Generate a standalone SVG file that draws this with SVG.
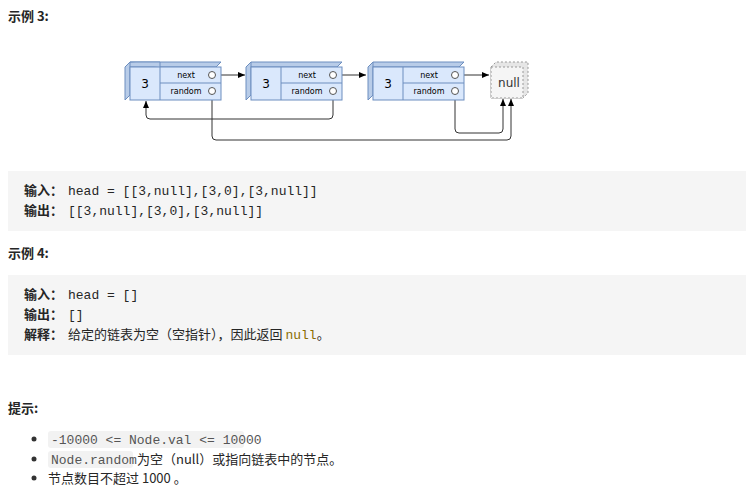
<svg xmlns="http://www.w3.org/2000/svg" width="746" height="499" viewBox="0 0 746 499">
<style>
.t{font-family:"Microsoft YaHei","Noto Sans CJK SC",sans-serif;font-size:13px;fill:#262626}
.b{font-weight:bold}
.m{font-family:"Liberation Mono","DejaVu Sans Mono",monospace;font-size:13px;fill:#262626}
.face{fill:#dae8fc;stroke:#6c8ebf;stroke-width:1}
.side{fill:#b8cce8;stroke:#6c8ebf;stroke-width:1}
.lbl{font-family:"Comic Sans MS","DejaVu Sans",sans-serif;font-size:8px;fill:#000;text-anchor:middle}
.val{font-family:"DejaVu Sans",sans-serif;font-size:12px;fill:#000;text-anchor:middle}
.dot{fill:#fff;stroke:#555;stroke-width:1}
.ln{fill:none;stroke:#333;stroke-width:1}
</style>
<defs>
<marker id="ah" markerWidth="8" markerHeight="8" refX="7" refY="4" orient="auto" markerUnits="userSpaceOnUse"><path d="M0,1 L7,4 L0,7 z" fill="#000"/></marker>
<g id="nd">
<path class="side" d="M0,0 L5,-5 L96,-5 L91,0 z"/>
<path class="side" d="M0,0 L5,-5 L5,33 L0,38 z"/>
<rect class="face" x="5" y="0" width="91" height="33" transform="translate(-5,5)"/>
<line class="face" x1="30" y1="5" x2="30" y2="38" transform="translate(5,-5)"/>
</g>
</defs>
<text class="t b" x="8" y="21">示例 3:</text>
<g id="connectors">
<line class="ln" x1="217" y1="75" x2="245" y2="75" marker-end="url(#ah)"/>
<line class="ln" x1="338" y1="75" x2="366" y2="75" marker-end="url(#ah)"/>
<line class="ln" x1="459" y1="75" x2="489" y2="75" marker-end="url(#ah)"/>
<path class="ln" d="M333,95 V115 Q333,119 329,119 H150 Q146,119 146,115 V101" marker-end="url(#ah)"/>
<path class="ln" d="M212,95 V136 Q212,140 216,140 H507 Q511,140 511,136 V99" marker-end="url(#ah)"/>
<path class="ln" d="M455,95 V129 Q455,133 459,133 H499 Q503,133 503,129 V99" marker-end="url(#ah)"/>
</g>
<g id="n1" transform="translate(125,67)">
<path class="side" d="M0,0 L5,-5 L96,-5 L91,0 z"/><path class="side" d="M0,0 L5,-5 L5,28 L0,33 z"/>
<path class="side" d="M5,-5 L35,-5 L35,0"/>
<rect class="face" x="5" y="0" width="91" height="33"/>
<line class="face" x1="35" y1="0" x2="35" y2="33"/><line class="face" x1="35" y1="16" x2="96" y2="16"/>
<text class="val" x="20" y="21">3</text><text class="lbl" x="61" y="11">next</text><text class="lbl" x="61" y="27">random</text>
<circle class="dot" cx="87" cy="8" r="3.5"/><circle class="dot" cx="87" cy="24" r="3.5"/>
</g>
<g id="n2" transform="translate(246,67)">
<path class="side" d="M0,0 L5,-5 L96,-5 L91,0 z"/><path class="side" d="M0,0 L5,-5 L5,28 L0,33 z"/>
<rect class="face" x="5" y="0" width="91" height="33"/>
<line class="face" x1="35" y1="0" x2="35" y2="33"/><line class="face" x1="35" y1="16" x2="96" y2="16"/>
<text class="val" x="20" y="21">3</text><text class="lbl" x="61" y="11">next</text><text class="lbl" x="61" y="27">random</text>
<circle class="dot" cx="87" cy="8" r="3.5"/><circle class="dot" cx="87" cy="24" r="3.5"/>
</g>
<g id="n3" transform="translate(368,67)">
<path class="side" d="M0,0 L5,-5 L96,-5 L91,0 z"/><path class="side" d="M0,0 L5,-5 L5,28 L0,33 z"/>
<rect class="face" x="5" y="0" width="91" height="33"/>
<line class="face" x1="35" y1="0" x2="35" y2="33"/><line class="face" x1="35" y1="16" x2="96" y2="16"/>
<text class="val" x="20" y="21">3</text><text class="lbl" x="61" y="11">next</text><text class="lbl" x="61" y="27">random</text>
<circle class="dot" cx="87" cy="8" r="3.5"/><circle class="dot" cx="87" cy="24" r="3.5"/>
</g>
<g id="null">
<path d="M491,67 L496,62 L528,62 L528,93 L523,98 L491,98 z" fill="#e6e6e6" stroke="#999" stroke-dasharray="2,2"/>
<rect x="491" y="67" width="32" height="31" fill="#f5f5f5" stroke="#999" stroke-dasharray="2,2"/>
<text class="val" x="509" y="87" style="font-size:12px;fill:#333">null</text>
</g>
<rect x="8" y="171" width="738" height="60" fill="#f5f5f5"/>
<text class="t b" x="24" y="195">输入：</text><text class="m" x="68" y="195">head = [[3,null],[3,0],[3,null]]</text>
<text class="t b" x="24" y="215">输出：</text><text class="m" x="68" y="215">[[3,null],[3,0],[3,null]]</text>
<text class="t b" x="8" y="258">示例 4:</text>
<rect x="8" y="275" width="738" height="80" fill="#f5f5f5"/>
<text class="t b" x="24" y="299">输入：</text><text class="m" x="68" y="299">head = []</text>
<text class="t b" x="24" y="319">输出：</text><text class="m" x="68" y="319">[]</text>
<text class="t b" x="24" y="339">解释：</text><text class="t" x="68" y="339">给定的链表为空（空指针），因此返回 <tspan class="m" style="fill:#8a6d00">null</tspan>。</text>
<text class="t b" x="8" y="413">提示:</text>
<circle cx="34" cy="439" r="2.5" fill="#333"/><circle cx="34" cy="459" r="2.5" fill="#333"/><circle cx="34" cy="478" r="2.5" fill="#333"/>
<rect x="48" y="431" width="196" height="17" rx="3" fill="#f2f2f2"/>
<text class="m" x="51" y="444" style="fill:#555">-10000 &lt;= Node.val &lt;= 10000</text>
<rect x="48" y="451" width="85" height="17" rx="3" fill="#f2f2f2"/>
<text class="m" x="51" y="464" style="fill:#555">Node.random</text>
<text class="t" x="137" y="464">为空（null）或指向链表中的节点。</text>
<text class="t" x="48" y="483">节点数目不超过 1000 。</text>
</svg>
